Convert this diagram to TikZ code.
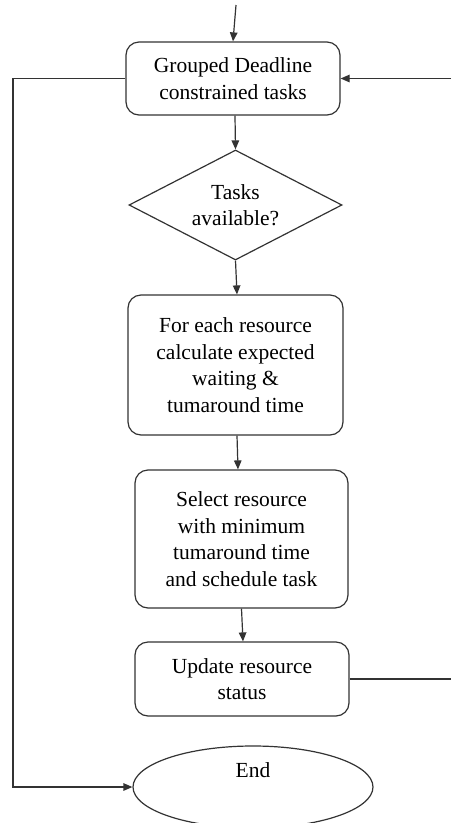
\documentclass[tikz,border=0pt]{standalone}
\usepackage{fontspec}
\setmainfont{Liberation Serif}
\usetikzlibrary{shapes.geometric,arrows.meta,calc}
\begin{document}
\begin{tikzpicture}[x=1pt,y=-1pt,
  line width=1.2pt,
  every node/.style={font=\fontsize{21.5}{26.5}\selectfont, align=center, draw=black!80, inner sep=0pt},
  procbox/.style={rectangle, rounded corners=13pt},
  decbox/.style={diamond},
  endbox/.style={ellipse},
  conn/.style={draw=black!80, -{Triangle[width=7.5pt,length=9pt]}},
  plain/.style={draw=black!80}]
\useasboundingbox (0,0) rectangle (451,823);
\clip (0,0) rectangle (451,823);
\fill[white] (0,0) rectangle (451,823);
\node[procbox, minimum width=214pt, minimum height=73pt] (box1) at (233,78.5) {Grouped Deadline\\constrained tasks};
\node[decbox, minimum width=213pt, minimum height=110pt, aspect=1.94] (dec) at (235.5,205) {Tasks\\available?};
\node[procbox, minimum width=215pt, minimum height=140pt] (box3) at (235.5,365) {For each resource\\calculate expected\\waiting \&\\tumaround time};
\node[procbox, minimum width=213pt, minimum height=138pt] (box4) at (241.5,539) {Select resource\\with minimum\\tumaround time\\and schedule task};
\node[procbox, minimum width=214pt, minimum height=74pt] (box5) at (242,679) {Update resource\\status};
\node[endbox, minimum width=240pt, minimum height=82pt] (end) at (253,787) {End\\\strut};
\coordinate (in) at (236,5);
\coordinate (r1) at (451,78.5);
\coordinate (r2) at (451,679);
\coordinate (L) at (13,78.5);
\draw[conn] (in) -- (box1.north);
\draw[conn] (r1) -- (box1.east);
\draw[conn] ($(box1.south)+(2,0)$) -- (dec.north);
\draw[conn] (dec.south) -- ($(box3.north)+(1.5,0)$);
\draw[conn] ($(box3.south)+(1.5,0)$) -- ($(box4.north)+(-3.5,0)$);
\draw[conn] (box4.south) -- ($(box5.north)+(1,0)$);
\draw[plain] (box5.east) -- (r2);
\draw[conn] (box1.west) -- (L) |- (end.west);
\end{tikzpicture}
\end{document}
